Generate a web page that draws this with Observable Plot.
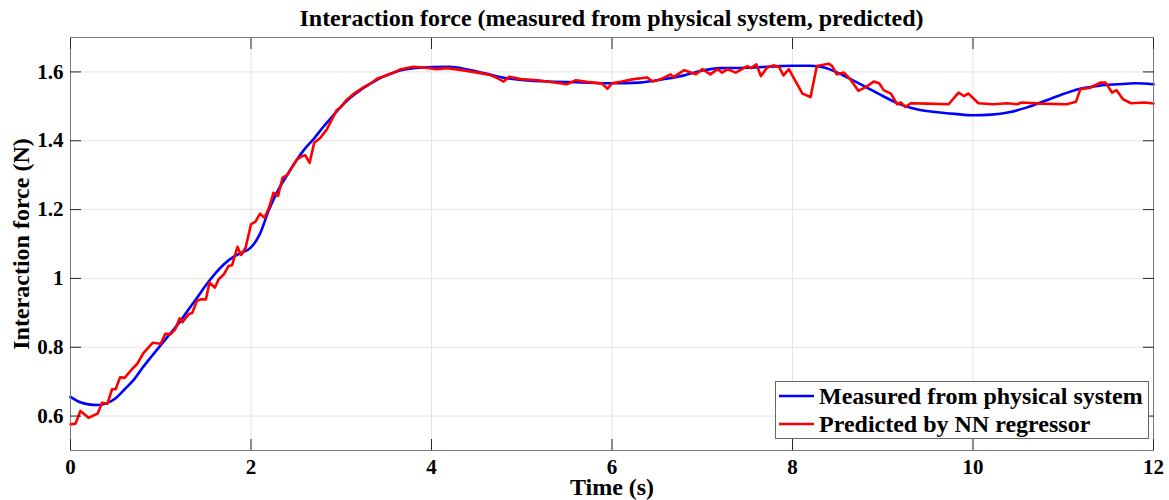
<!DOCTYPE html>
<html>
<head>
<meta charset="utf-8">
<script src="https://cdn.jsdelivr.net/npm/d3@7"></script>
<script src="https://cdn.jsdelivr.net/npm/@observablehq/plot@0.6"></script>
<style>
  html, body { margin: 0; padding: 0; background: #fff; }
  #wrap { position: relative; width: 1169px; height: 500px; overflow: hidden; font-family: "Liberation Serif", "Times New Roman", serif; font-weight: bold; color: #000; }
  #title { height: 36px; line-height: 36px; font-size: 24px; text-align: center; padding-left: 54px; box-sizing: border-box; white-space: nowrap; }
  #chart { position: absolute; left: 0; top: 36px; }
  #legend { position: absolute; left: 775px; top: 381px; width: 374px; height: 58px; box-sizing: border-box; border: 1px solid #666; background: #fff; font-size: 24px; }
  .lg { position: absolute; left: 0; height: 28px; line-height: 28px; white-space: nowrap; }
  .lg svg { position: absolute; left: 3px; top: 12px; }
  .lg span { position: absolute; left: 43px; top: 0; }
</style>
</head>
<body>
<div id="wrap">
  <div id="title">Interaction force (measured from physical system, predicted)</div>
  <div id="chart"></div>
  <div id="legend"></div>
</div>
<script>
// ---- data ----
const xTicks = [0, 2, 4, 6, 8, 10, 12];
const xTickLabels = ["0", "2", "4", "6", "8", "10", "12"];
const yTicks = [0.6, 0.8, 1.0, 1.2, 1.4, 1.6];
const yTickLabels = ["0.6", "0.8", "1", "1.2", "1.4", "1.6"];
const xLabel = "Time (s)";
const yLabel = "Interaction force (N)";
const seriesNames = ["Measured from physical system", "Predicted by NN regressor"];
const seriesColors = ["#0000ff", "#ff0000"];

const measuredT = [0, 0.1, 0.2, 0.3, 0.4, 0.5, 0.6, 0.7, 0.8, 0.9, 1.0, 1.1, 1.2, 1.3, 1.4, 1.5, 1.6, 1.7, 1.8, 1.9, 2.0, 2.1, 2.2, 2.3, 2.4, 2.5, 2.6, 2.7, 2.8, 2.9, 3.0, 3.1, 3.2, 3.3, 3.4, 3.5, 3.6, 3.7, 3.8, 4.0, 4.2, 4.4, 4.6, 4.8, 5.0, 5.3, 5.6, 6.0, 6.3, 6.6, 6.8, 7.0, 7.2, 7.5, 7.8, 8.0, 8.2, 8.35, 8.5, 8.6, 8.8, 9.0, 9.2, 9.4, 9.6, 9.8, 10.0, 10.2, 10.4, 10.6, 10.8, 11.0, 11.2, 11.4, 11.6, 11.8, 12.0];
const measuredV = [0.656, 0.641, 0.634, 0.632, 0.637, 0.652, 0.678, 0.705, 0.741, 0.774, 0.806, 0.838, 0.870, 0.907, 0.943, 0.980, 1.013, 1.041, 1.062, 1.075, 1.090, 1.130, 1.200, 1.256, 1.300, 1.342, 1.378, 1.407, 1.440, 1.470, 1.500, 1.525, 1.545, 1.562, 1.578, 1.590, 1.600, 1.607, 1.611, 1.614, 1.615, 1.607, 1.595, 1.583, 1.577, 1.572, 1.570, 1.567, 1.569, 1.580, 1.590, 1.604, 1.611, 1.612, 1.616, 1.618, 1.618, 1.613, 1.598, 1.585, 1.558, 1.530, 1.505, 1.490, 1.483, 1.478, 1.474, 1.476, 1.483, 1.497, 1.516, 1.536, 1.552, 1.560, 1.564, 1.567, 1.564];

const predictedT = [0, 0.055, 0.11, 0.2, 0.30, 0.35, 0.41, 0.46, 0.50, 0.55, 0.60, 0.68, 0.74, 0.81, 0.91, 1.00, 1.05, 1.11, 1.16, 1.21, 1.24, 1.31, 1.35, 1.40, 1.44, 1.50, 1.54, 1.60, 1.64, 1.70, 1.75, 1.79, 1.85, 1.89, 1.94, 2.00, 2.05, 2.10, 2.15, 2.20, 2.25, 2.30, 2.35, 2.40, 2.51, 2.57, 2.60, 2.65, 2.70, 2.77, 2.84, 2.95, 2.99, 3.05, 3.14, 3.25, 3.34, 3.40, 3.45, 3.51, 3.58, 3.66, 3.80, 3.91, 4.06, 4.17, 4.32, 4.51, 4.65, 4.73, 4.80, 4.86, 4.99, 5.17, 5.36, 5.50, 5.60, 5.72, 5.89, 5.95, 6.00, 6.11, 6.24, 6.39, 6.45, 6.54, 6.65, 6.68, 6.80, 6.93, 7.00, 7.09, 7.17, 7.22, 7.28, 7.37, 7.42, 7.50, 7.54, 7.60, 7.65, 7.72, 7.79, 7.85, 7.90, 7.96, 8.11, 8.20, 8.27, 8.40, 8.44, 8.49, 8.57, 8.64, 8.73, 8.81, 8.90, 8.96, 9.01, 9.09, 9.16, 9.20, 9.25, 9.31, 9.49, 9.73, 9.84, 9.90, 9.95, 10.06, 10.23, 10.38, 10.49, 10.54, 10.75, 11.04, 11.14, 11.19, 11.30, 11.41, 11.47, 11.54, 11.59, 11.66, 11.75, 11.90, 12.0];
const predictedV = [0.576, 0.578, 0.615, 0.595, 0.607, 0.639, 0.636, 0.678, 0.678, 0.713, 0.711, 0.736, 0.752, 0.784, 0.813, 0.810, 0.839, 0.838, 0.852, 0.884, 0.873, 0.896, 0.900, 0.934, 0.939, 0.939, 0.988, 0.973, 0.997, 1.012, 1.036, 1.038, 1.092, 1.068, 1.089, 1.157, 1.165, 1.188, 1.176, 1.206, 1.249, 1.240, 1.293, 1.300, 1.346, 1.356, 1.358, 1.336, 1.394, 1.409, 1.433, 1.489, 1.496, 1.516, 1.537, 1.556, 1.569, 1.581, 1.585, 1.591, 1.598, 1.608, 1.615, 1.613, 1.608, 1.611, 1.606, 1.598, 1.591, 1.582, 1.572, 1.586, 1.579, 1.576, 1.569, 1.564, 1.576, 1.571, 1.566, 1.551, 1.567, 1.572, 1.579, 1.584, 1.572, 1.579, 1.593, 1.585, 1.605, 1.593, 1.608, 1.593, 1.608, 1.598, 1.608, 1.598, 1.605, 1.617, 1.611, 1.622, 1.588, 1.613, 1.619, 1.615, 1.590, 1.608, 1.537, 1.527, 1.617, 1.624, 1.617, 1.593, 1.598, 1.579, 1.545, 1.556, 1.572, 1.567, 1.547, 1.537, 1.506, 1.511, 1.498, 1.509, 1.508, 1.506, 1.540, 1.530, 1.537, 1.509, 1.506, 1.509, 1.506, 1.511, 1.508, 1.506, 1.513, 1.550, 1.554, 1.569, 1.569, 1.540, 1.547, 1.521, 1.509, 1.511, 1.508];

// ---- build tables ----
const measured = measuredT.map((t, i) => ({t, v: measuredV[i]}));
const predicted = predictedT.map((t, i) => ({t, v: predictedV[i]}));

const axisColor = "#262626";
const chart = Plot.plot({
  width: 1169,
  height: 464,
  marginTop: 1,
  marginBottom: 50,
  marginLeft: 70,
  marginRight: 16,
  style: {fontFamily: "'Liberation Serif', 'Times New Roman', serif", fontWeight: "bold", fontSize: "21px", color: "#000", background: "#fff", overflow: "visible"},
  x: {domain: [0, 12]},
  y: {domain: [0.5, 1.7]},
  marks: [
    Plot.gridX(xTicks, {stroke: "#e3e3e3", strokeOpacity: 1}),
    Plot.gridY(yTicks, {stroke: "#e3e3e3", strokeOpacity: 1}),
    Plot.line(measured, {x: "t", y: "v", stroke: seriesColors[0], strokeWidth: 2.6, curve: "monotone-x"}),
    Plot.line(predicted, {x: "t", y: "v", stroke: seriesColors[1], strokeWidth: 2.6, strokeLinejoin: "round"}),
    Plot.frame({stroke: "#7a7a7a"}),
    Plot.axisX(xTicks, {anchor: "bottom", tickSize: -11, tickPadding: 20, stroke: axisColor, tickFormat: (d, i) => xTickLabels[i], label: null}),
    Plot.axisX(xTicks, {anchor: "top", tickSize: -11, stroke: axisColor, tickFormat: () => "", label: null}),
    Plot.axisY(yTicks, {anchor: "left", tickSize: -11, tickPadding: 18, stroke: axisColor, tickFormat: (d, i) => yTickLabels[i], label: null}),
    Plot.axisY(yTicks, {anchor: "right", tickSize: -11, stroke: axisColor, tickFormat: () => "", label: null}),
    Plot.text([xLabel], {text: d => d, frameAnchor: "bottom", dy: 37, textAnchor: "middle", lineAnchor: "middle", fontSize: 24, fontWeight: "bold", fill: "#000"}),
    Plot.text([yLabel], {text: d => d, frameAnchor: "left", rotate: -90, dx: -49, textAnchor: "middle", lineAnchor: "middle", fontSize: 24, fontWeight: "bold", fill: "#000"})
  ]
});
document.getElementById("chart").appendChild(chart);

// ---- legend ----
const legend = document.getElementById("legend");
seriesNames.forEach((name, i) => {
  const row = document.createElement("div");
  row.className = "lg";
  row.style.top = (i * 28) + "px";
  row.innerHTML = `<svg width="35" height="4"><line x1="0" y1="2" x2="35" y2="2" stroke="${seriesColors[i]}" stroke-width="2.6"/></svg><span>${name}</span>`;
  legend.appendChild(row);
});
</script>
</body>
</html>
